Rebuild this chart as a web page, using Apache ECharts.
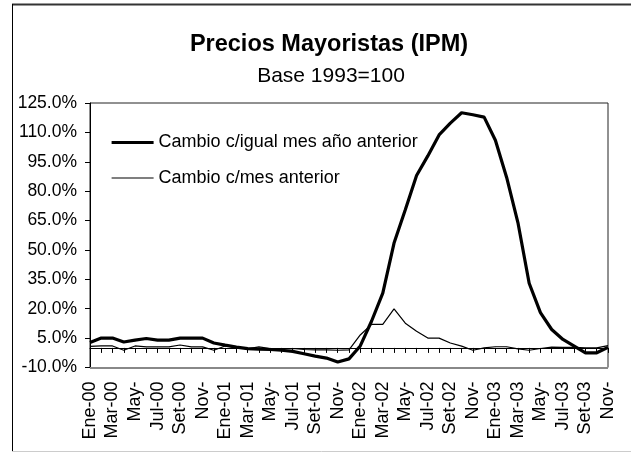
<!DOCTYPE html>
<html>
<head>
<meta charset="utf-8">
<script src="https://cdn.jsdelivr.net/npm/echarts@6/dist/echarts.min.js"></script>
<style>
  html, body { margin: 0; padding: 0; background: #fff; }
  #chart { width: 631px; height: 453px; }
</style>
</head>
<body>
<div id="chart"></div>
<script>
// meses Ene-00 .. Nov-03 (las etiquetas "May-" y "Nov-" tal como aparecen)
const meses = [
  'Ene-00', 'Feb-00', 'Mar-00', 'Abr-00', 'May-', 'Jun-00', 'Jul-00', 'Ago-00', 'Set-00', 'Oct-00', 'Nov-', 'Dic-00',
  'Ene-01', 'Feb-01', 'Mar-01', 'Abr-01', 'May-', 'Jun-01', 'Jul-01', 'Ago-01', 'Set-01', 'Oct-01', 'Nov-', 'Dic-01',
  'Ene-02', 'Feb-02', 'Mar-02', 'Abr-02', 'May-', 'Jun-02', 'Jul-02', 'Ago-02', 'Set-02', 'Oct-02', 'Nov-', 'Dic-02',
  'Ene-03', 'Feb-03', 'Mar-03', 'Abr-03', 'May-', 'Jun-03', 'Jul-03', 'Ago-03', 'Set-03', 'Oct-03', 'Nov-'
]

// Cambio c/igual mes año anterior (%)
const cambioAnual = [
  2.8, 5.0, 5.0, 3.0, 4.0, 4.8, 4.0, 4.0, 5.0, 5.0, 5.0, 2.5,
  1.4, 0.4, -0.4, -0.6, -0.8, -1.2, -1.8, -3.0, -4.2, -5.2, -7.2, -5.6,
  1.0, 13.6, 28.0, 53.5, 70.5, 88.0, 98.0, 108.7, 114.7, 120.0, 119.0, 117.8,
  106.0, 87.0, 64.0, 33.0, 18.0, 9.4, 4.3, 0.9, -2.5, -2.5, 0.3
]

// Cambio c/mes anterior (%)
const cambioMensual = [
  0.8, 1.0, 1.0, -1.2, 1.0, 0.5, 0.5, 0.5, 1.5, 0.5, 0.5, -1.2,
  1.0, 0.3, -0.5, 0.5, -0.3, -0.5, -0.3, -0.8, -1.0, -1.0, -1.2, -1.0,
  6.6, 12.0, 12.0, 19.9, 12.6, 8.5, 5.0, 5.0, 2.5, 0.9, -1.2, 0.0,
  0.6, 0.6, -0.5, -1.2, -0.3, 0.4, 0.3, 0.3, 0.0, 0.0, 1.2
]

// marcas del eje vertical
const ticksY = [-10, 5, 20, 35, 50, 65, 80, 95, 110, 125]

const fuente = '"Liberation Sans", Arial, sans-serif'
const chart = echarts.init(document.getElementById('chart'))

const option = {
  backgroundColor: '#fff',
  animation: false,
  textStyle: { fontFamily: fuente, color: '#000' },
  title: [
    {
      text: 'Precios Mayoristas (IPM)',
      left: 324,
      top: 28,
      textAlign: 'center',
      textStyle: { fontFamily: fuente, fontSize: 23.5, fontWeight: 'bold', color: '#000' }
    },
    {
      text: 'Base 1993=100',
      left: 326,
      top: 61,
      textAlign: 'center',
      textStyle: { fontFamily: fuente, fontSize: 21, fontWeight: 'normal', color: '#000' }
    }
  ],
  legend: {
    left: 105,
    top: 127.5,
    orient: 'vertical',
    itemWidth: 42,
    itemHeight: 20,
    itemGap: 15.5,
    itemStyle: { opacity: 0 },
    textStyle: { fontFamily: fuente, fontSize: 18, lineHeight: 20, color: '#000' },
    data: [
      { name: 'Cambio c/igual mes año anterior', lineStyle: { color: '#000', width: 3.2 } },
      { name: 'Cambio c/mes anterior', lineStyle: { color: '#000', width: 1.2 } }
    ]
  },
  grid: {
    left: 90,
    right: 23,
    top: 103,
    bottom: 85.5,
    outerBoundsMode: 'none',
    containLabel: false,
    show: true,
    borderColor: '#222',
    borderWidth: 1
  },
  xAxis: {
    type: 'category',
    data: meses,
    boundaryGap: false,
    axisLine: { onZero: true, lineStyle: { color: '#000', width: 1 } },
    axisTick: { show: true, interval: 0, inside: false, length: 5, lineStyle: { color: '#000' } },
    axisLabel: {
      interval: 1,
      rotate: 90,
      margin: 14,
      fontFamily: fuente,
      fontSize: 18,
      color: '#000'
    },
    splitLine: { show: false }
  },
  yAxis: {
    type: 'value',
    min: -10,
    max: 125,
    axisLine: { show: true, onZero: false, lineStyle: { color: '#000', width: 1 } },
    axisTick: { show: true, length: 5, customValues: ticksY, lineStyle: { color: '#000' } },
    axisLabel: {
      customValues: ticksY,
      margin: 13,
      fontFamily: fuente,
      fontSize: 17.5,
      color: '#000',
      formatter: v => v.toFixed(1) + '%'
    },
    splitLine: { show: false }
  },
  series: [
    {
      name: 'Cambio c/igual mes año anterior',
      type: 'line',
      data: cambioAnual,
      symbol: 'none',
      showSymbol: false,
      color: '#000',
      lineStyle: { color: '#000', width: 3.2 },
      z: 3
    },
    {
      name: 'Cambio c/mes anterior',
      type: 'line',
      data: cambioMensual,
      symbol: 'none',
      showSymbol: false,
      color: '#000',
      lineStyle: { color: '#000', width: 1.2 },
      z: 4,
      markLine: {
        silent: true,
        symbol: 'none',
        label: { show: false },
        lineStyle: { color: '#888', width: 2, type: 'solid' },
        data: [{ yAxis: -10 }]
      }
    }
  ],
  graphic: [
    // marco exterior del gráfico
    { type: 'line', shape: { x1: 12, y1: 4.5, x2: 631, y2: 4.5 }, style: { stroke: '#333', lineWidth: 2 } },
    { type: 'line', shape: { x1: 12.5, y1: 4, x2: 12.5, y2: 452 }, style: { stroke: '#000', lineWidth: 1 } },
    { type: 'line', shape: { x1: 12, y1: 451.5, x2: 631, y2: 451.5 }, style: { stroke: '#ccc', lineWidth: 1 } }
  ]
}

chart.setOption(option)
</script>
</body>
</html>
